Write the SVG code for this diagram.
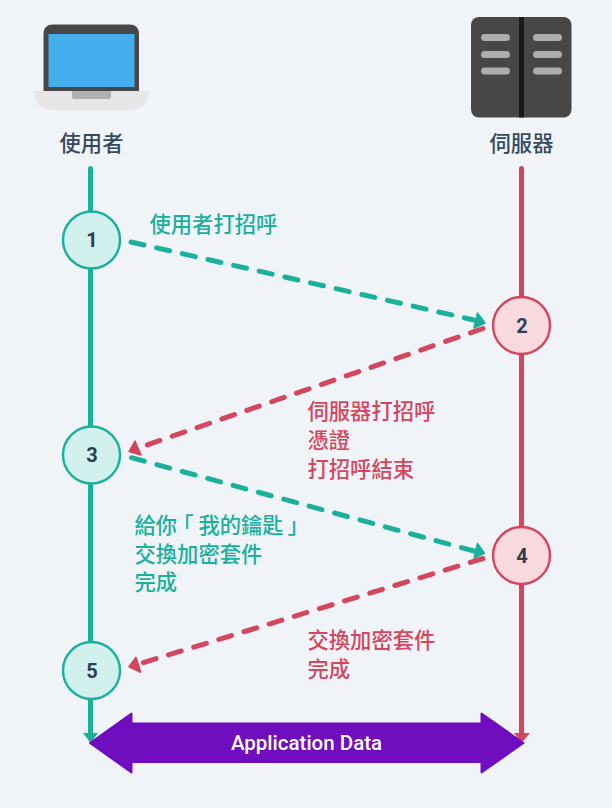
<svg xmlns="http://www.w3.org/2000/svg" width="612" height="808" viewBox="0 0 612 808" lang="zh-TW">
<style>
text{font-family:"Roboto","Noto Sans CJK TC","Noto Sans CJK JP",sans-serif}
.hd{font-size:21.3px;fill:#34495e;font-weight:500;text-anchor:middle}
.t{font-size:21.3px;font-weight:500}
.g{fill:#1ab09c}.r{fill:#d4465e}
.pa{font-feature-settings:"palt"}
.num{font-size:20px;font-weight:700;fill:#2c3e50;text-anchor:middle}
.cg{fill:#d2f0ed;stroke:#1ab09c;stroke-width:2.4}
.cr{fill:#f8d9de;stroke:#d4465e;stroke-width:2.4}
.dg{fill:none;stroke:#1ab09c;stroke-width:5;stroke-dasharray:13.300 13;stroke-linecap:round}
.dr{fill:none;stroke:#d4465e;stroke-width:5;stroke-dasharray:13.300 13;stroke-linecap:round}
.hg{fill:#1ab09c;stroke:#1ab09c;stroke-width:1.500;stroke-linejoin:round}
.hr{fill:#d4465e;stroke:#d4465e;stroke-width:1.500;stroke-linejoin:round}
.bar{fill:#adadad}
</style>
<rect width="612" height="808" fill="#f0f4f8"/>
<g id="laptop">
<path d="M43.500 91V34Q43.500 24.500 53 24.500H129.500Q139 24.500 139 34V91Z" fill="#474747"/>
<rect x="48.500" y="34" width="86" height="53" fill="#46aeec"/>
<path d="M34 91H149Q149 110 128 110H55Q34 110 34 91Z" fill="#e6e6e6"/>
<path d="M72 91H111V97Q111 99 109 99H74Q72 99 72 97Z" fill="#b0b0b0"/>
</g>
<g id="server">
<rect x="471" y="17" width="100.500" height="100.500" rx="8" fill="#474747"/>
<rect x="519" y="17" width="5" height="100.500" fill="#1a1a1a"/>
<rect class="bar" x="481" y="34" width="29" height="7" rx="3.500"/><rect class="bar" x="481" y="51" width="29" height="7" rx="3.500"/><rect class="bar" x="481" y="67.500" width="29" height="7" rx="3.500"/>
<rect class="bar" x="533" y="34" width="29" height="7" rx="3.500"/><rect class="bar" x="533" y="51" width="29" height="7" rx="3.500"/><rect class="bar" x="533" y="67.500" width="29" height="7" rx="3.500"/>
</g>
<g id="connectors">
<path d="M90.500 168.500V736" stroke="#1ab09c" stroke-width="5" stroke-linecap="round" fill="none"/>
<path d="M83 733H98L90.500 743Z" fill="#1ab09c"/>
<path d="M521.500 168.500V736" stroke="#d4465e" stroke-width="5" stroke-linecap="round" fill="none"/>
<path d="M514 733H530L521.500 743Z" fill="#d4465e"/>
<path class="dg" d="M131 242L474 320"/>
<path class="hg" d="M485 323L474 328L477.500 313Z"/>
<path class="dr" d="M483 328.500L144 446"/>
<path class="hr" d="M129 451.500L135 441L141 455Z"/>
<path class="dg" d="M131.500 457.700L474 551"/>
<path class="hg" d="M484.500 553.300L474 558L477.500 543.500Z"/>
<path class="dr" d="M483 558.500L142 663"/>
<path class="hr" d="M129 666.700L136 657.300L140.700 672.300Z"/>
</g>
<g id="n1"><circle class="cg" cx="91.500" cy="240" r="28.500"/><text class="num" x="92" y="247">1</text></g>
<g id="n2"><circle class="cr" cx="521.500" cy="325.500" r="28.500"/><text class="num" x="522" y="332.500">2</text></g>
<g id="n3"><circle class="cg" cx="91.500" cy="455" r="28.500"/><text class="num" x="92" y="462">3</text></g>
<g id="n4"><circle class="cr" cx="521.500" cy="555.500" r="28.500"/><text class="num" x="522" y="562.500">4</text></g>
<g id="n5"><circle class="cg" cx="91.500" cy="670.500" r="28.500"/><text class="num" x="92" y="677.500">5</text></g>
<g id="labels">
<text class="hd" x="91.500" y="151">使用者</text>
<text class="hd" x="521.500" y="151">伺服器</text>
<text class="t g" x="149.500" y="232">使用者打招呼</text>
<text class="t r" x="307.500" y="419">伺服器打招呼</text>
<text class="t r" x="307.500" y="448">憑證</text>
<text class="t r" x="307.500" y="477">打招呼結束</text>
<text class="t g" x="134.500" y="533">給你<tspan class="pa" x="182.500">「</tspan><tspan x="198.400">我的鑰匙</tspan><tspan class="pa" x="288">」</tspan></text>
<text class="t g" x="134.500" y="562">交換加密套件</text>
<text class="t g" x="134.500" y="590">完成</text>
<text class="t r" x="307.500" y="648">交換加密套件</text>
<text class="t r" x="307.500" y="677">完成</text>
</g>
<g id="data">
<path d="M90 743L131.500 713.500V723.500H481.500V713.500L523.500 743L481.500 772.500V762H131.500V772.500Z" fill="#6f0dbf" stroke="#6f0dbf" stroke-width="2" stroke-linejoin="round"/>
<text x="306.500" y="750" font-size="20.500" font-weight="500" fill="#fff" text-anchor="middle">Application Data</text>
</g>
</svg>
